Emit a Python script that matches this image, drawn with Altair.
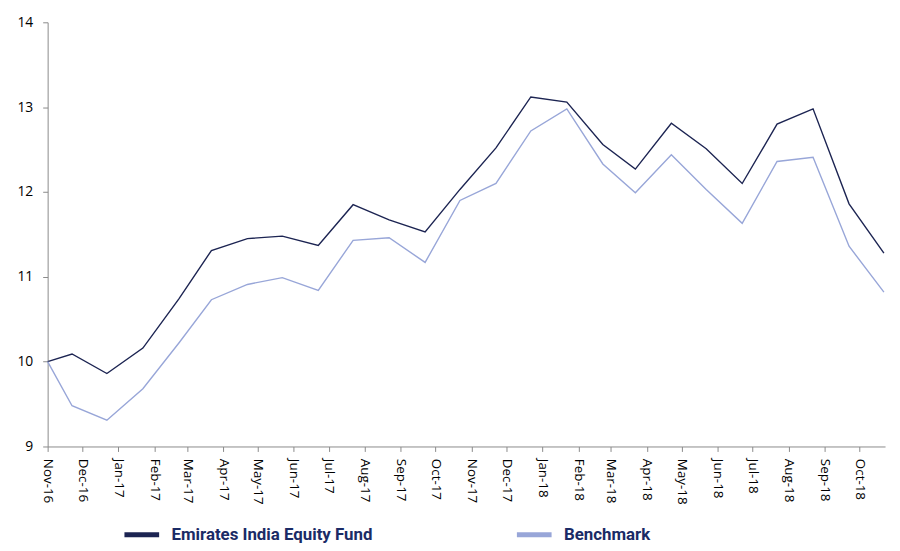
import altair as alt
import pandas as pd

dates = ["2016-11-01", "2016-11-22", "2016-12-22", "2017-01-22", "2017-02-22",
         "2017-03-22", "2017-04-22", "2017-05-22", "2017-06-22", "2017-07-22",
         "2017-08-22", "2017-09-22", "2017-10-22", "2017-11-22", "2017-12-22",
         "2018-01-22", "2018-02-22", "2018-03-22", "2018-04-22", "2018-05-22",
         "2018-06-22", "2018-07-22", "2018-08-22", "2018-09-22", "2018-10-22"]

fund = [10.00, 10.09, 9.86, 10.16, 10.74, 11.31, 11.45, 11.48, 11.37, 11.85,
        11.67, 11.53, 12.03, 12.52, 13.12, 13.06, 12.56, 12.27, 12.81, 12.51,
        12.10, 12.80, 12.98, 11.86, 11.28]

benchmark = [10.00, 9.48, 9.31, 9.68, 10.22, 10.73, 10.91, 10.99, 10.84, 11.43,
             11.46, 11.17, 11.90, 12.10, 12.72, 12.98, 12.33, 11.99, 12.44, 12.03,
             11.63, 12.36, 12.41, 11.36, 10.82]

series_names = ["Emirates India Equity Fund", "Benchmark"]
series_colors = ["#1c2452", "#98a6d8"]

tick_months = [(2016, m) for m in (11, 12)] + [(2017, m) for m in range(1, 13)] + [(2018, m) for m in range(1, 11)]

rows = []
for d, f, b in zip(dates, fund, benchmark):
    rows.append({"date": d, "series": series_names[0], "value": f})
    rows.append({"date": d, "series": series_names[1], "value": b})
df = pd.DataFrame(rows)

font = "Open Sans"

chart = alt.Chart(df).mark_line(strokeWidth=1.4).encode(
    x=alt.X(
        "date:T",
        scale=alt.Scale(
            type="utc",
            domain=[alt.DateTime(year=2016, month=11, date=1, utc=True),
                    alt.DateTime(year=2018, month=10, date=23, utc=True)],
        ),
        axis=alt.Axis(
            title=None,
            values=[alt.DateTime(year=y, month=m, date=1, utc=True) for y, m in tick_months],
            format="%b-%y",
            labelAngle=90,
            labelFontSize=13.5,
            labelFont=font,
            labelColor="#000000",
            labelPadding=7,
            domainColor="#8a8a8a",
            tickColor="#8a8a8a",
            tickSize=5,
            grid=False,
            labelOverlap=False,
        ),
    ),
    y=alt.Y(
        "value:Q",
        scale=alt.Scale(domain=[9, 14], nice=False, zero=False),
        axis=alt.Axis(
            title=None,
            values=[9, 10, 11, 12, 13, 14],
            labelFontSize=14,
            labelFont=font,
            labelColor="#000000",
            labelPadding=10,
            domainColor="#8a8a8a",
            tickColor="#8a8a8a",
            tickSize=5,
            grid=False,
        ),
    ),
    color=alt.Color(
        "series:N",
        scale=alt.Scale(domain=series_names, range=series_colors),
        sort=series_names,
        legend=alt.Legend(
            title=None,
            orient="none",
            direction="horizontal",
            legendX=75,
            legendY=497,
            symbolType="stroke",
            symbolSize=1225,
            symbolStrokeWidth=5,
            labelFont="Roboto",
            labelFontWeight="bold",
            labelFontSize=17,
            labelColor="#1a2b66",
            labelOffset=10,
            columnPadding=135,
            labelLimit=400,
        ),
    ),
).properties(
    width=845,
    height=428,
    autosize=alt.AutoSizeParams(type="none"),
    padding={"left": 40, "top": 12, "right": 7, "bottom": 100},
).configure_view(stroke=None)

chart.save("out.html", embed_options={"renderer": "svg", "actions": False})
